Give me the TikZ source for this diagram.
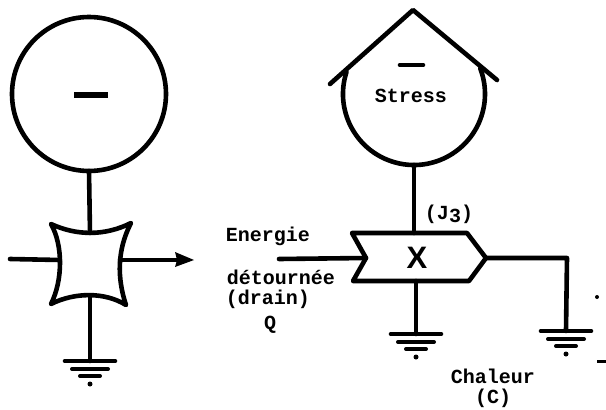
\documentclass[tikz,border=0pt]{standalone}
\usepackage{fontspec}
\newfontfamily\typ{Liberation Mono}[BoldFont={Liberation Mono Bold}]
\newfontfamily\sanstyp{Liberation Sans}[BoldFont={Liberation Sans Bold}]
\tikzset{
  x=1pt,y=-1pt,
  ink/.style={line width=4.6pt,line cap=round,line join=round,black},
  lab/.style={font=\typ\bfseries\fontsize{20}{20}\selectfont,inner sep=0pt,text=black},
  ringshape/.style={circle,minimum size=#1,inner sep=0pt,outer sep=0pt},
  gnd/.pic={
    \draw[ink] (-25,0) -- (25,0);
    \draw[ink,line width=4pt] (-18,8) -- (18,8);
    \draw[ink,line width=4pt] (-10,15) -- (10,15);
    \fill[black] (0,23) circle (2.5);
  }
}
\begin{document}
\begin{tikzpicture}
\useasboundingbox (0,0) rectangle (606,410);
% left circle
\node[ringshape=154pt,draw,line width=4.6pt] (ringL) at (89,94) {};
\draw[ink,line width=6pt,line cap=butt] (74,95) -- (108,95);
% star block
\coordinate (sA) at (51,224);
\coordinate (sB) at (131,223);
\coordinate (sC) at (126,305);
\coordinate (sD) at (51,304);
\coordinate (sT) at (90,233);
\coordinate (sR) at (120,260);
\coordinate (sU) at (90,296);
\coordinate (sL) at (60,260);
\draw[ink] (sA) .. controls (77,236) and (105,236) .. (sB)
  .. controls (117,250) and (117,278) .. (sC)
  .. controls (105,292) and (75,292) .. (sD)
  .. controls (63,280) and (63,245) .. cycle;
\coordinate (inL) at (10,259);
\coordinate (tipL) at (194,260);
\draw[ink] (ringL.south) -- (sT);
\draw[ink] (inL) -- (sL);
\draw[ink] (sR) -- (180,260);
\fill[black] (tipL) -- (175,252) -- (177,260) -- (175,267) -- cycle;
\coordinate (gL) at (90,361);
\draw[ink] (sU) -- (gL);
\pic at (gL) {gnd};
% right circle with roof
\node[ringshape=142pt] (ringR) at (414,94) {};
\draw[ink] (ringR.162) arc[start angle=162,end angle=381,radius=71pt];
\coordinate (apex) at (413,10);
\coordinate (roofL) at (330,84);
\coordinate (roofR) at (497,80);
\draw[ink] (roofL) -- (apex) -- (roofR);
\draw[ink] (400,65) -- (423,65);
\node[lab] (stress) at (411,96) {Stress};
% pentagon
\coordinate (pA) at (352,233);
\coordinate (pB) at (467,233);
\coordinate (pTip) at (486,258);
\coordinate (pC) at (469,281);
\coordinate (pD) at (353,281);
\coordinate (pN) at (366,258);
\draw[ink] (pA) -- (pB) -- (pTip) -- (pC) -- (pD) -- (pN) -- cycle;
\node[inner sep=0pt,font=\sanstyp\bfseries\fontsize{31}{31}\selectfont] (xmark) at (417,258) {X};
\coordinate (pTop) at (414,233);
\coordinate (pBot) at (416,281);
\coordinate (gM) at (416,334);
\coordinate (inR) at (279,259);
\coordinate (elbow) at (567,258);
\coordinate (gR) at (566,331);
\draw[ink] (ringR.south) -- (pTop);
\draw[ink] (pBot) -- (gM);
\draw[ink] (inR) -- (pN);
\draw[ink] (pTip) -- (elbow) -- (gR);
\pic at (gM) {gnd};
\pic at (gR) {gnd};
% labels
\node[lab] (j3) at (449,214) {(J\raisebox{-3pt}{3})};
\node[lab] (energie) at (268,236) {Energie};
\node[lab] (det) at (281,277) {détournée};
\node[lab] (drain) at (268,299) {(drain)};
\node[lab] (q) at (270,325) {Q};
\node[lab] (chaleur) at (493,376) {Chaleur};
\node[lab] (c) at (493,398) {(C)};
% specks
\fill[black] (597,297) circle (2);
\fill[black] (597,360) rectangle (606,363);
\end{tikzpicture}
\end{document}
